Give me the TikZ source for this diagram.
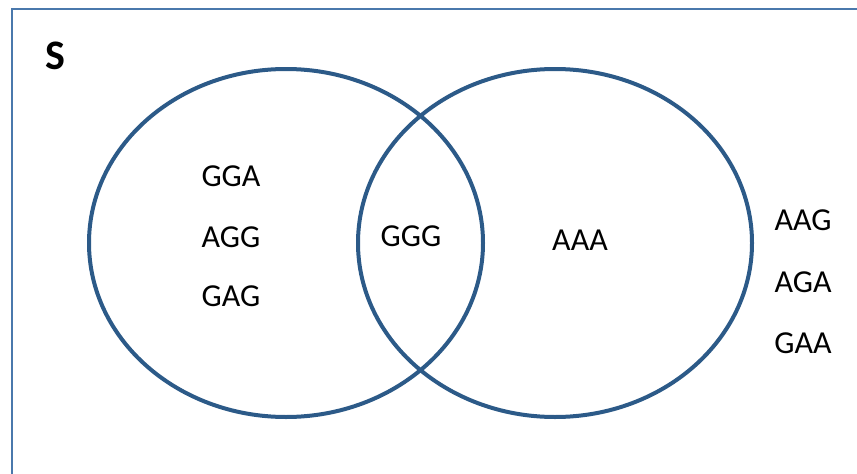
\documentclass[tikz,border=0pt]{standalone}
\usepackage{fontspec}
\setmainfont{Carlito}
\usetikzlibrary{shapes.geometric}
\usetikzlibrary{positioning}
\definecolor{ringblue}{HTML}{2C5A88}
\definecolor{boxblue}{HTML}{4A78AC}

\begin{document}
\begin{tikzpicture}[x=1pt, y=-1pt,
    setring/.style={ellipse, draw=ringblue, line width=4pt, minimum width=394pt, minimum height=348pt, inner sep=0pt},
    word/.style={font=\fontsize{32}{36}\selectfont, inner sep=0pt}]
   \useasboundingbox (0,0) rectangle (857,474);
   \draw[boxblue, line width=2pt] (12,480) -- (12,9) -- (870,9);
   \node[font=\fontsize{42}{44}\selectfont\bfseries, inner sep=0pt] (s) at (55,56) {S};
   \node[setring] (left) at (286,243) {};
   \node[setring] (right) at (555,243) {};
   % only in the left set
   \node[word] (gga) at (231,176) {GGA};
   \node[word] (agg) at (231,237) {AGG};
   \node[word] (gag) at (231,296) {GAG};
   % in both sets
   \node[word] (ggg) at (411,236) {GGG};
   % only in the right set
   \node[word] (aaa) at (580,240) {AAA};
   % in neither set
   \node[word] (aag) at (803,220) {AAG};
   \node[word] (aga) at (803,282) {AGA};
   \node[word] (gaa) at (803,343) {GAA};
\end{tikzpicture}
\end{document}
